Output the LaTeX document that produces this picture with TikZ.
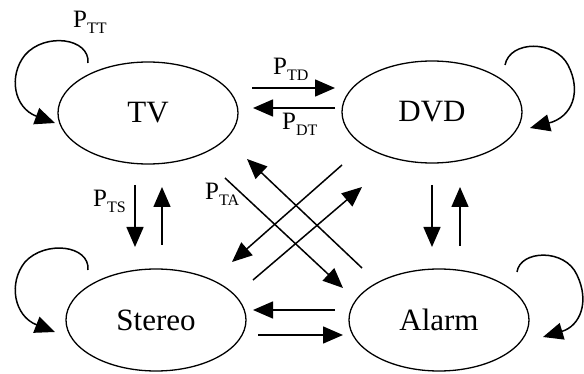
\documentclass[tikz,border=0pt]{standalone}
\usepackage{fontspec}
\setmainfont{Liberation Serif}
\usetikzlibrary{shapes.geometric,arrows.meta}
\newcommand{\plab}[1]{{\fontsize{25}{25}\selectfont P}\raisebox{-6pt}{\fontsize{16}{16}\selectfont #1}}
\tikzset{
  state/.style={draw,ellipse,line width=1.3pt,minimum width=180pt,minimum height=102pt,inner sep=0pt,font=\fontsize{31}{31}\selectfont},
  arr/.style={line width=1.5pt,-{Triangle[length=20pt,width=17pt]}},
  plain/.style={line width=1.5pt},
  lbl/.style={anchor=base west,inner sep=0pt}
}
\begin{document}
\begin{tikzpicture}[x=1pt,y=-1pt]
\useasboundingbox (0,0) rectangle (584,374);
\fill[white] (0,0) rectangle (584,374);
\node[state] (tv) at (148,113) {TV};
\node[state] (dvd) at (432,112) {DVD};
\node[state] (st) at (156,320) {Stereo};
\node[state] (al) at (439,320) {Alarm};
% loops
\coordinate (tvl1) at (88,63); \coordinate (tvl2) at (55,123);
\coordinate (dvl1) at (505,65); \coordinate (dvl2) at (530,128);
\coordinate (stl1) at (88,270); \coordinate (stl2) at (55,332);
\coordinate (all1) at (517,272); \coordinate (all2) at (543,337);
\draw[arr] (tvl1) .. controls (90,38) and (45,32) .. (25,55) .. controls (8,76) and (14,108) .. (tvl2);
\draw[arr] (dvl1) .. controls (510,40) and (555,40) .. (568,65) .. controls (582,92) and (572,117) .. (dvl2);
\draw[arr] (stl1) .. controls (90,245) and (45,240) .. (25,262) .. controls (8,283) and (14,316) .. (stl2);
\draw[arr] (all1) .. controls (520,250) and (565,248) .. (577,275) .. controls (590,302) and (580,326) .. (all2);
% TV <-> DVD
\coordinate (td1) at (252,88); \coordinate (td2) at (335,88);
\coordinate (dt1) at (335,108); \coordinate (dt2) at (253,108);
\draw[arr] (td1) -- (td2);
\draw[arr] (dt1) -- (dt2);
% TV <-> Stereo
\coordinate (ts1) at (135,185); \coordinate (ts2) at (135,247);
\coordinate (snt1) at (162,245); \coordinate (snt2) at (162,187);
\draw[arr] (ts1) -- (ts2);
\draw[arr] (snt1) -- (snt2);
% DVD <-> Alarm
\coordinate (da1) at (432,185); \coordinate (da2) at (432,247);
\coordinate (ad1) at (460,246); \coordinate (ad2) at (460,187);
\draw[arr] (da1) -- (da2);
\draw[arr] (ad1) -- (ad2);
% Stereo <-> Alarm
\coordinate (as1) at (335,310); \coordinate (as2) at (253,310);
\coordinate (sa1) at (258,335); \coordinate (sa2) at (343,335);
\draw[arr] (as1) -- (as2);
\draw[arr] (sa1) -- (sa2);
% diagonals
\coordinate (at1) at (362,268); \coordinate (at2) at (247,159);
\coordinate (ta1) at (225,178); \coordinate (ta2) at (343,288);
\coordinate (ds1) at (342,165); \coordinate (ds2) at (232,262);
\coordinate (sd1) at (253,280); \coordinate (sd2) at (362,187);
\draw[arr] (at1) -- (at2);
\draw[arr] (ta1) -- (ta2);
\draw[arr] (ds1) -- (ds2);
\draw[arr] (sd1) -- (sd2);
% labels
\node[lbl] (ptt) at (73,28) {\plab{TT}};
\node[lbl] (ptd) at (273,75) {\plab{TD}};
\node[lbl] (pdt) at (282,130) {\plab{DT}};
\node[lbl] (pts) at (93,207) {\plab{TS}};
\node[lbl] (pta) at (205,200) {\plab{TA}};
\end{tikzpicture}
\end{document}
